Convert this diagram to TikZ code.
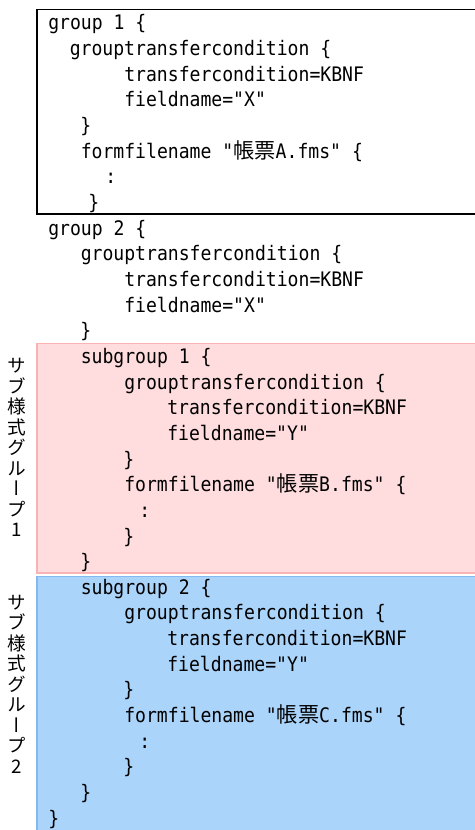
\documentclass[tikz,border=0pt]{standalone}
\usepackage{fontspec}
\newfontfamily\codefont[FakeStretch=0.905]{DejaVu Sans Mono}
\newfontfamily\jafont{Noto Sans CJK JP}
\newfontfamily\javert[RawFeature=+vert]{Noto Sans CJK JP}
\newcommand{\ja}[1]{{\jafont\fontsize{15.9}{18}\selectfont #1}}
\definecolor{pinkfill}{RGB}{255,221,222}
\definecolor{pinkline}{RGB}{250,178,178}
\definecolor{bluefill}{RGB}{170,212,250}
\definecolor{blueline}{RGB}{130,185,240}
\begin{document}
\begin{tikzpicture}[x=0.75pt,y=-0.75pt,
  code/.style={anchor=base west,inner sep=0pt,font=\codefont\fontsize{15}{18}\selectfont},
  side/.style={align=center,inner sep=0pt,font=\javert\fontsize{14}{15.4}\selectfont}]
\useasboundingbox (0,0) rectangle (474,830);
% boxes
\draw[line width=1pt] (37,9.5) rectangle (476,214);
\filldraw[fill=pinkfill,draw=pinkline,line width=0.8pt] (37,343.5) rectangle (476,573);
\filldraw[fill=bluefill,draw=blueline,line width=0.8pt] (37,576.5) rectangle (476,834);
% group 1
\node[code] (g1) at (48,30) {group 1 \{};
\node[code] (g1c) at (69.5,55.6) {grouptransfercondition \{};
\node[code] (g1t) at (124,81.3) {transfercondition=KBNF};
\node[code] (g1f) at (124,107) {fieldname="X"};
\node[code] (g1e) at (80,132.6) {\}};
\node[code] (g1n) at (80.5,158.2) {formfilename "\ja{帳票}A.fms" \{};
\node[code] (g1d) at (105,183.9) {:};
\node[code] (g1x) at (88,209.5) {\}};
% group 2
\node[code] (g2) at (48,235.2) {group 2 \{};
\node[code] (g2c) at (80.5,260.8) {grouptransfercondition \{};
\node[code] (g2t) at (124,286.5) {transfercondition=KBNF};
\node[code] (g2f) at (124,312.1) {fieldname="X"};
\node[code] (g2e) at (80,337.8) {\}};
% subgroup 1
\node[code] (s1) at (80.5,363.4) {subgroup 1 \{};
\node[code] (s1c) at (124,389.1) {grouptransfercondition \{};
\node[code] (s1t) at (167,414.7) {transfercondition=KBNF};
\node[code] (s1f) at (167,440.4) {fieldname="Y"};
\node[code] (s1e) at (123,466) {\}};
\node[code] (s1n) at (124,491.7) {formfilename "\ja{帳票}B.fms" \{};
\node[code] (s1d) at (139,517.3) {:};
\node[code] (s1x) at (123,543) {\}};
\node[code] (s1z) at (80,568.6) {\}};
% subgroup 2
\node[code] (s2) at (80.5,594.3) {subgroup 2 \{};
\node[code] (s2c) at (124,619.9) {grouptransfercondition \{};
\node[code] (s2t) at (167,645.6) {transfercondition=KBNF};
\node[code] (s2f) at (167,671.2) {fieldname="Y"};
\node[code] (s2e) at (123,696.9) {\}};
\node[code] (s2n) at (124,722.5) {formfilename "\ja{帳票}C.fms" \{};
\node[code] (s2d) at (139,748.2) {:};
\node[code] (s2x) at (123,773.8) {\}};
\node[code] (s2z) at (80,799.5) {\}};
\node[code] (g2z) at (48,825.1) {\}};
% side labels
\node[side] (lab1) at (16.5,447.5) {サ\\ブ\\様\\式\\グ\\ル\\ー\\プ\\1};
\node[side] (lab2) at (16.5,684) {サ\\ブ\\様\\式\\グ\\ル\\ー\\プ\\2};
\end{tikzpicture}
\end{document}
